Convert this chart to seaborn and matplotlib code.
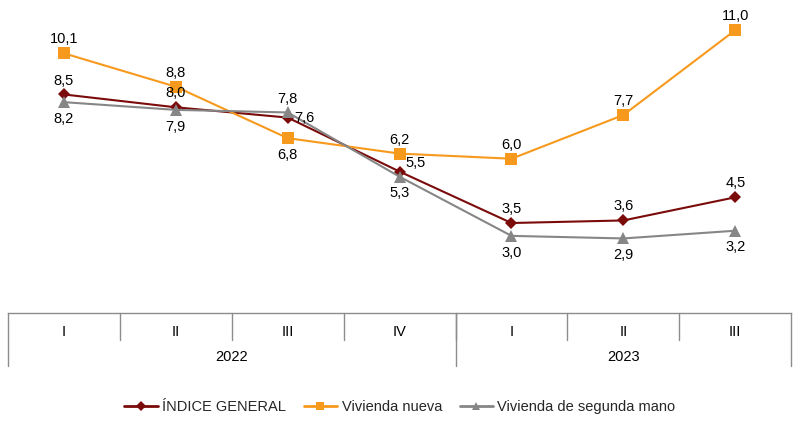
import numpy as np
import pandas as pd
import seaborn as sns
from matplotlib import pyplot as plt
from matplotlib import transforms

sns.set_theme(style="white")
plt.rcParams['font.family'] = ['Liberation Sans', 'DejaVu Sans']

quarters = ['I', 'II', 'III', 'IV', 'I', 'II', 'III']
years = ['2022', '2023']
year_span = [4, 3]

indice_general = [8.5, 8.0, 7.6, 5.5, 3.5, 3.6, 4.5]
vivienda_nueva = [10.1, 8.8, 6.8, 6.2, 6.0, 7.7, 11.0]
segunda_mano = [8.2, 7.9, 7.8, 5.3, 3.0, 2.9, 3.2]

series_names = ['ÍNDICE GENERAL', 'Vivienda nueva', 'Vivienda de segunda mano']
series_values = [indice_general, vivienda_nueva, segunda_mano]
colors = ['#7b0a0a', '#f7991c', '#868686']
markers = ['D', 's', '^']
msizes = [6, 8, 8]
# where each value label goes
label_pos = [
    ['above', 'above', 'right', 'upright', 'above', 'above', 'above'],
    ['above', 'above', 'below', 'above', 'above', 'above', 'above'],
    ['below', 'below', 'above', 'below', 'below', 'below', 'below'],
]

rows = []
for name, vals in zip(series_names, series_values):
    for i, v in enumerate(vals):
        rows.append({'pos': i, 'valor': v, 'serie': name})
df = pd.DataFrame(rows)

fig = plt.figure(figsize=(8, 4.45), dpi=100)
ax = fig.add_axes([0.01, 0.2966, 0.979, 0.6934])

sns.lineplot(data=df, x='pos', y='valor', hue='serie', style='serie',
             palette=dict(zip(series_names, colors)),
             markers=dict(zip(series_names, markers)),
             dashes=False, linewidth=1.5, markeredgewidth=0,
             legend=False, ax=ax)
for line, ms in zip(ax.get_lines(), msizes):
    line.set_markersize(ms)

offsets = {'above': ((0, 5), 'center', 'bottom'),
           'below': ((0, -7), 'center', 'top'),
           'right': ((5, 0), 'left', 'center'),
           'upright': ((4, 6), 'left', 'center')}
for vals, poss in zip(series_values, label_pos):
    for i, (v, p) in enumerate(zip(vals, poss)):
        txt = f"{v:.1f}".replace('.', ',')
        off, ha, va = offsets[p]
        ax.annotate(txt, (i, v), xytext=off, textcoords='offset points',
                    ha=ha, va=va, fontsize=10.5, color='black')

ax.set_xlim(-0.5, len(quarters) - 0.5)
ax.set_ylim(0, 12)
ax.set_xticks([])
ax.set_yticks([])
ax.set_xlabel('')
ax.set_ylabel('')
for s in ['top', 'right', 'left']:
    ax.spines[s].set_visible(False)
ax.spines['bottom'].set_color('#8c8c8c')
ax.spines['bottom'].set_linewidth(1.0)

# category table under the axis
trans = transforms.blended_transform_factory(ax.transData, ax.transAxes)
for i in range(1, len(quarters)):
    ax.plot([i - 0.5, i - 0.5], [0, -0.0875], transform=trans, color='#8c8c8c',
            lw=1.0, clip_on=False)
edges = np.cumsum([0] + year_span) - 0.5
for e in edges:
    ax.plot([e, e], [0, -0.172], transform=trans, color='#8c8c8c', lw=1.0,
            clip_on=False)
for i, q in enumerate(quarters):
    ax.text(i, -0.061, q, transform=trans, ha='center', va='center',
            fontsize=10.5, color='black')
for k, y in enumerate(years):
    ax.text((edges[k] + edges[k + 1]) / 2, -0.142, y, transform=trans,
            ha='center', va='center', fontsize=10.5, color='black')

handles = [plt.Line2D([], [], color=c, marker=m, markersize=ms * 0.8,
                      markeredgewidth=0, lw=2)
           for c, m, ms in zip(colors, markers, msizes)]
fig.legend(handles, series_names, loc='center', bbox_to_anchor=(0.5, 0.085),
           ncol=3, frameon=False, fontsize=10.5, handlelength=2.3,
           handletextpad=0.3, columnspacing=1.2)

fig.savefig('out.png', dpi=100)
